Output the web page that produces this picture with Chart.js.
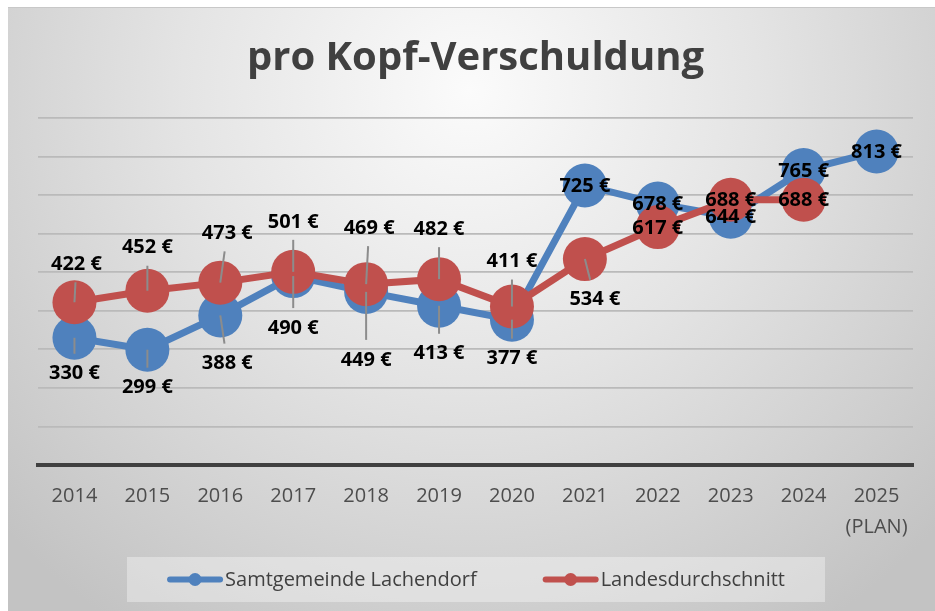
<!DOCTYPE html>
<html>
<head>
<meta charset="utf-8">
<script src="https://cdn.jsdelivr.net/npm/chart.js@4.4.0/dist/chart.umd.min.js"></script>
<style>
  html, body { margin: 0; padding: 0; background: #fff; }
  #wrap { width: 935px; height: 611px; }
</style>
</head>
<body>
<div id="wrap"><canvas id="debtChart" width="935" height="611"></canvas></div>
<script>
// data
const years = ['2014', '2015', '2016', '2017', '2018', '2019', '2020', '2021', '2022', '2023', '2024', ['2025', '(PLAN)']];
const lachendorf = [330, 299, 388, 490, 449, 413, 377, 725, 678, 644, 765, 813];
const landesschnitt = [422, 452, 473, 501, 469, 482, 411, 534, 617, 688, 688, null];

// label placement (offset from the point, px)
const blueLabelDy = [35, 37, 47, 51, 67, 47, 38, 0, 0, 0, 0, 0];
const blueLabelDx = [0, 0, 7, 0, 0, 0, 0, 0, 0, 0, 0, 0];
const redLabelDy = [-39, -44, -50, -51, -57, -51, -46, 39, 0, 0, 0, 0];
const redLabelDx = [2, 0, 7, 0, 3, 0, 0, 10, 0, 0, 0, 0];

const BLUE = '#4F81BD';
const RED = '#C0504D';

const background = {
  id: 'background',
  beforeDraw(chart) {
    const c = chart.ctx;
    c.save();
    c.fillStyle = '#fff';
    c.fillRect(0, 0, chart.width, chart.height);
    const g = c.createRadialGradient(470, 90, 0, 470, 90, 640);
    g.addColorStop(0, '#fbfbfb');
    g.addColorStop(0.45, '#e4e4e4');
    g.addColorStop(1, '#c3c3c3');
    c.fillStyle = g;
    c.fillRect(8, 7, chart.width - 8, chart.height - 7);
    c.fillStyle = '#c8c8c8';
    c.fillRect(8, 7, chart.width - 8, 1);
    c.restore();
  }
};

const valueLabels = {
  id: 'valueLabels',
  afterDatasetsDraw(chart) {
    const c = chart.ctx;
    const offsets = [[blueLabelDx, blueLabelDy], [redLabelDx, redLabelDy]];
    c.save();
    // leader lines first
    chart.data.datasets.forEach((ds, di) => {
      const meta = chart.getDatasetMeta(di);
      meta.data.forEach((pt, i) => {
        if (ds.data[i] == null) return;
        const dx = offsets[di][0][i], dy = offsets[di][1][i];
        if (!dy) return;
        const lx = pt.x + dx, ly = pt.y + dy;
        const len = Math.hypot(dx, dy);
        const ex = lx - dx / len * 19, ey = ly - dy / len * 19;
        c.strokeStyle = '#8c8c8c';
        c.lineWidth = 2;
        c.beginPath();
        c.moveTo(pt.x, pt.y);
        c.lineTo(ex, ey);
        c.stroke();
      });
    });
    c.font = 'bold 20px "Open Sans"';
    c.fillStyle = '#000';
    c.textAlign = 'center';
    c.textBaseline = 'middle';
    chart.data.datasets.forEach((ds, di) => {
      const meta = chart.getDatasetMeta(di);
      meta.data.forEach((pt, i) => {
        if (ds.data[i] == null) return;
        const dx = offsets[di][0][i], dy = offsets[di][1][i];
        c.fillText(ds.data[i] + ' €', pt.x + dx, pt.y + dy + 1);
      });
    });
    c.restore();
  }
};

const legendBox = {
  id: 'legendBox',
  afterDraw(chart) {
    const c = chart.ctx;
    const box = { x: 127, y: 557, w: 698, h: 45 };
    c.save();
    c.fillStyle = 'rgba(255,255,255,0.35)';
    c.fillRect(box.x, box.y, box.w, box.h);
    c.font = '20px "Open Sans"';
    c.textBaseline = 'middle';
    const lineW = 56, gap = 2, itemGap = 66;
    const items = chart.data.datasets.map(ds => ({ ds, tw: c.measureText(ds.label).width }));
    const total = items.reduce((s, it) => s + lineW + gap + it.tw, 0) + itemGap * (items.length - 1);
    let x = box.x + (box.w - total) / 2;
    const cy = box.y + box.h / 2;
    items.forEach(it => {
      c.strokeStyle = it.ds.borderColor;
      c.lineWidth = 6;
      c.lineCap = 'round';
      c.beginPath();
      c.moveTo(x + 3, cy);
      c.lineTo(x + lineW - 3, cy);
      c.stroke();
      c.fillStyle = it.ds.borderColor;
      c.beginPath();
      c.arc(x + lineW / 2, cy, 6.5, 0, Math.PI * 2);
      c.fill();
      c.fillStyle = '#404040';
      c.fillText(it.ds.label, x + lineW + gap, cy + 1);
      x += lineW + gap + it.tw + itemGap;
    });
    c.restore();
  }
};

new Chart(document.getElementById('debtChart').getContext('2d'), {
  type: 'line',
  data: {
    labels: years,
    datasets: [{
      label: 'Samtgemeinde Lachendorf',
      data: lachendorf,
      borderColor: BLUE,
      backgroundColor: BLUE,
      pointBackgroundColor: BLUE,
      borderWidth: 7,
      pointRadius: 22,
      pointHoverRadius: 22,
      pointBorderWidth: 0,
      tension: 0,
      order: 1
    }, {
      label: 'Landesdurchschnitt',
      data: landesschnitt,
      borderColor: RED,
      backgroundColor: RED,
      pointBackgroundColor: RED,
      borderWidth: 7,
      pointRadius: 22,
      pointHoverRadius: 22,
      pointBorderWidth: 0,
      tension: 0,
      order: 0
    }]
  },
  options: {
    responsive: false,
    animation: false,
    layout: { padding: { left: 38, right: 22, top: 0, bottom: 52 } },
    plugins: {
      legend: { display: false },
      tooltip: { enabled: false },
      title: {
        display: true,
        text: 'pro Kopf-Verschuldung',
        color: '#404040',
        font: { family: 'Open Sans', size: 40, weight: 'bold', lineHeight: 1.2 },
        padding: { top: 35, bottom: 35 }
      }
    },
    scales: {
      x: {
        offset: true,
        grid: { display: false, drawTicks: false },
        border: { display: true, color: '#404040', width: 4 },
        ticks: {
          color: '#4d4d4d',
          font: { family: 'Open Sans', size: 20, lineHeight: 1.55 },
          padding: 16,
          maxRotation: 0,
          autoSkip: false
        }
      },
      y: {
        min: 0,
        max: 900,
        ticks: { display: false, stepSize: 100 },
        grid: { color: '#bababa', lineWidth: 1.8, drawTicks: false },
        border: { display: false }
      }
    }
  },
  plugins: [background, valueLabels, legendBox]
});
</script>
</body>
</html>
